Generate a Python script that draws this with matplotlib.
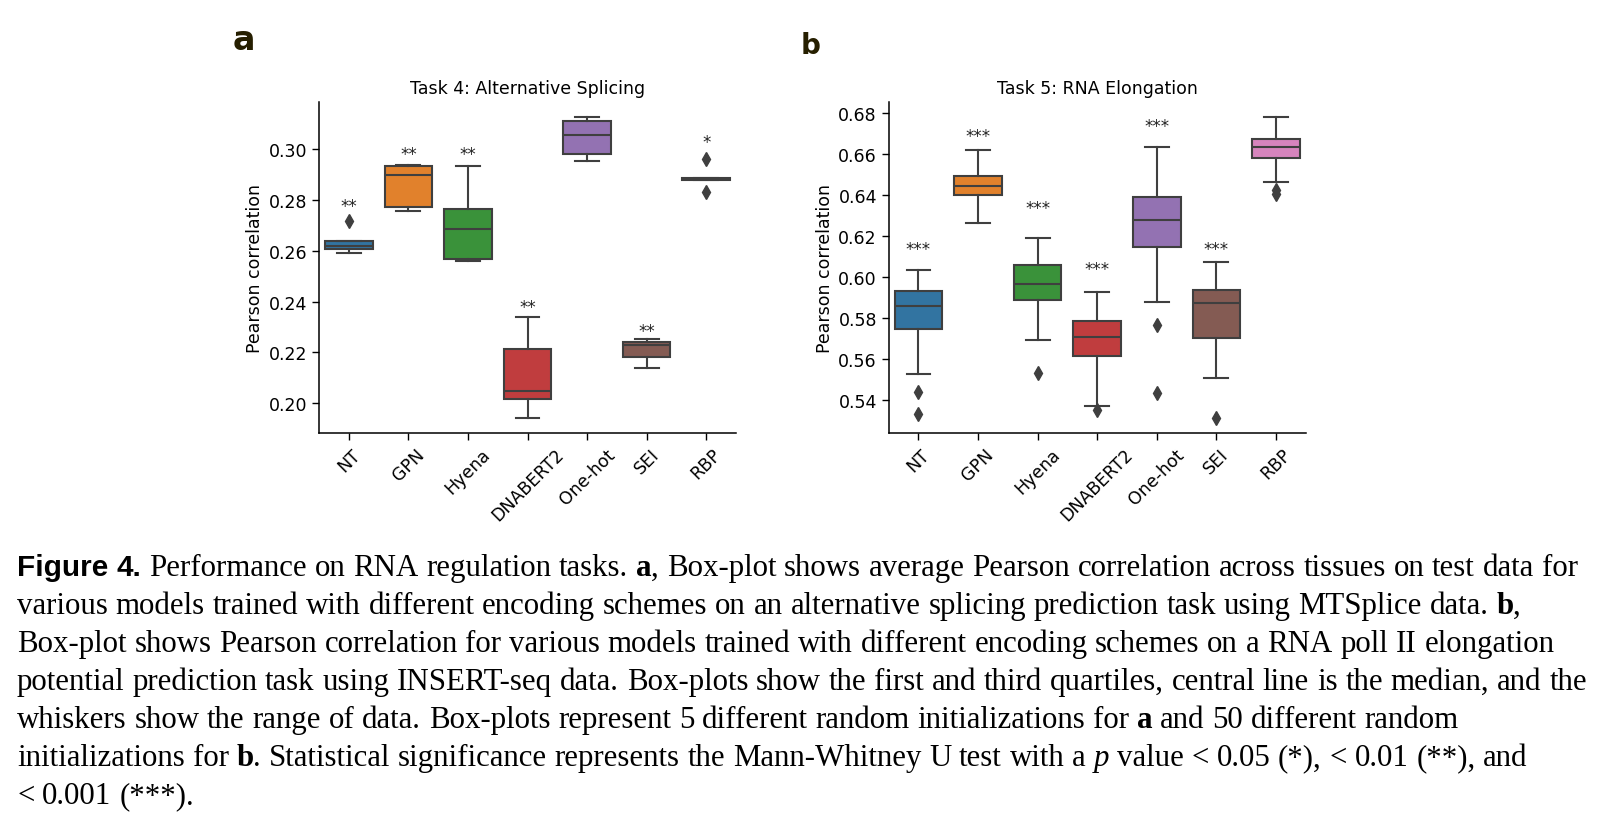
import numpy as np
import matplotlib.pyplot as plt
from matplotlib import transforms

W, H = 1601, 828

models = ["NT", "GPN", "Hyena", "DNABERT2", "One-hot", "SEI", "RBP"]
colors = ["#3274a1", "#e1812c", "#3a923a", "#c03d3e", "#9372b2", "#845b53", "#d684bd"]

# Task 4: alternative splicing (5 runs per model)
a_whislo = [0.2591, 0.2755, 0.2558, 0.1941, 0.2953, 0.2138, 0.2879]
a_q1 = [0.2608, 0.2773, 0.2567, 0.2016, 0.2979, 0.2180, 0.2879]
a_med = [0.2620, 0.2899, 0.2685, 0.2049, 0.3055, 0.2231, 0.2882]
a_q3 = [0.2637, 0.2933, 0.2764, 0.2214, 0.3109, 0.2242, 0.2885]
a_whishi = [0.2637, 0.2938, 0.2932, 0.2341, 0.3126, 0.2252, 0.2885]
a_fliers = [[0.2716], [], [], [], [], [], [0.2959, 0.2830]]
a_sig = ["**", "**", "**", "**", "", "**", "*"]
a_sig_y = [0.2797, 0.3000, 0.3000, 0.2397, 0, 0.2305, 0.3048]

# Task 5: RNA elongation (50 runs per model)
b_whislo = [0.5525, 0.6266, 0.5695, 0.5369, 0.5877, 0.5509, 0.6463]
b_q1 = [0.5747, 0.6403, 0.5887, 0.5617, 0.6149, 0.5701, 0.6580]
b_med = [0.5861, 0.6447, 0.5967, 0.5709, 0.6279, 0.5875, 0.6634]
b_q3 = [0.5932, 0.6496, 0.6059, 0.5784, 0.6393, 0.5939, 0.6675]
b_whishi = [0.6037, 0.6621, 0.6193, 0.5927, 0.6634, 0.6072, 0.6780]
b_fliers = [[0.5437, 0.5330], [], [0.5534], [0.5351], [0.5766, 0.5433], [0.5311], [0.6426, 0.6406]]
b_sig = ["***", "***", "***", "***", "***", "***", ""]
b_sig_y = [0.6162, 0.6712, 0.6362, 0.6064, 0.6761, 0.6162, 0]

gray = "#3f3f3f"
fs = 12.5


def draw_panel(ax, title, lo, q1, med, q3, hi, fliers, sig, sig_y, ylim, yticks):
    stats = []
    for i in range(len(models)):
        stats.append(dict(whislo=lo[i], q1=q1[i], med=med[i], q3=q3[i],
                          whishi=hi[i], fliers=fliers[i]))
    bp = ax.bxp(stats, positions=range(len(models)), widths=0.8,
                patch_artist=True, showfliers=True,
                boxprops=dict(edgecolor=gray, linewidth=1.5),
                medianprops=dict(color=gray, linewidth=1.5),
                whiskerprops=dict(color=gray, linewidth=1.5),
                capprops=dict(color=gray, linewidth=1.5),
                flierprops=dict(marker="d", markerfacecolor=gray,
                                markeredgecolor=gray, markersize=7.5,
                                linestyle="none"))
    for patch, c in zip(bp["boxes"], colors):
        patch.set_facecolor(c)
    # stars: baseline a bit below glyph centre
    off = transforms.offset_copy(ax.transData, fig=ax.figure, x=0, y=-10, units="dots")
    for i, s in enumerate(sig):
        if s:
            ax.text(i, sig_y[i], s, ha="center", va="baseline", fontsize=12,
                    color="#222222", transform=off)
    ax.set_xlim(-0.5, len(models) - 0.5)
    ax.set_ylim(*ylim)
    ax.set_yticks(yticks)
    ax.set_yticklabels(["%.2f" % t for t in yticks])
    ax.set_xticks(range(len(models)))
    ax.set_xticklabels(models, rotation=45)
    ax.tick_params(labelsize=fs, length=5.3, width=1.0, pad=3.2)
    ax.set_ylabel("Pearson correlation", fontsize=fs, labelpad=3)
    ax.set_title(title, fontsize=fs)
    for sp in ["top", "right"]:
        ax.spines[sp].set_visible(False)
    for sp in ["left", "bottom"]:
        ax.spines[sp].set_linewidth(1.1)


fig = plt.figure(figsize=(W / 100, H / 100), dpi=100)
ax1 = fig.add_axes([319 / W, 1 - 434 / H, 417 / W, 331.3 / H])
ax2 = fig.add_axes([888.7 / W, 1 - 434 / H, 417 / W, 331.3 / H])

draw_panel(ax1, "Task 4: Alternative Splicing", a_whislo, a_q1, a_med, a_q3,
           a_whishi, a_fliers, a_sig, a_sig_y, (0.1883, 0.3186),
           np.arange(0.20, 0.301, 0.02))
draw_panel(ax2, "Task 5: RNA Elongation", b_whislo, b_q1, b_med, b_q3,
           b_whishi, b_fliers, b_sig, b_sig_y, (0.5239, 0.6857),
           np.arange(0.54, 0.681, 0.02))

fig.text(233 / W, 1 - 49.5 / H, "a", fontsize=24, fontweight="bold",
         color="#261f00", va="baseline")
fig.text(801 / W, 1 - 53.8 / H, "b", fontsize=20, fontweight="bold",
         color="#261f00", va="baseline")

# caption, laid out word by word
styles = {
    "fig": dict(family="Liberation Sans", fontweight="bold", fontsize=21.4),
    "rm": dict(family="Liberation Serif", fontsize=22.2),
    "bf": dict(family="Liberation Serif", fontweight="bold", fontsize=22.2),
    "it": dict(family="Liberation Serif", fontstyle="italic", fontsize=22.2),
}
caption = [
    [("Figure 4.", "fig"), (" Performance on RNA regulation tasks. ", "rm"), ("a", "bf"),
     (", Box-plot shows average Pearson correlation across tissues on test data for", "rm")],
    [("various models trained with different encoding schemes on an alternative splicing "
      "prediction task using MTSplice data. ", "rm"), ("b", "bf"), (",", "rm")],
    [("Box-plot shows Pearson correlation for various models trained with different encoding "
      "schemes on a RNA poll II elongation", "rm")],
    [("potential prediction task using INSERT-seq data. Box-plots show the first and third "
      "quartiles, central line is the median, and the", "rm")],
    [("whiskers show the range of data. Box-plots represent 5 different random initializations for ", "rm"),
     ("a", "bf"), (" and 50 different random", "rm")],
    [("initializations for ", "rm"), ("b", "bf"),
     (". Statistical significance represents the Mann-Whitney U test with a ", "rm"),
     ("p", "it"), (" value < 0.05 (*), < 0.01 (**), and", "rm")],
    [("< 0.001 (***).", "rm")],
]

renderer = fig.canvas.get_renderer()


def text_width(s, kind):
    t = fig.text(0, 0, s, **styles[kind])
    w = t.get_window_extent(renderer).width
    t.remove()
    return w


space = {k: text_width("x x", k) - text_width("xx", k) for k in styles}

for row, parts in enumerate(caption):
    y = 576 + 38 * row
    x = 17
    for text, kind in parts:
        words = text.split(" ")
        for i, w in enumerate(words):
            if i > 0:
                x += space[kind]
            if w == "":
                continue
            t = fig.text(x / W, 1 - y / H, w, va="baseline", ha="left",
                         color="black", **styles[kind])
            x += t.get_window_extent(renderer).width

fig.savefig("out.png", dpi=100)
